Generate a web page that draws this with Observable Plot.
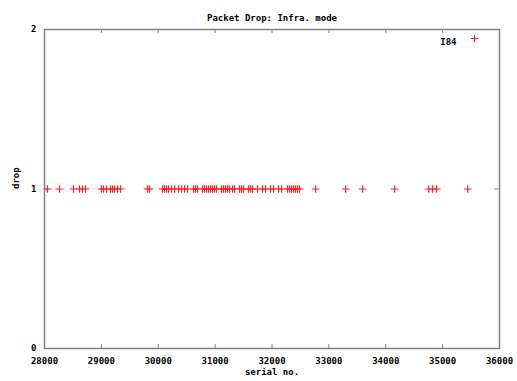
<!DOCTYPE html>
<html><head><meta charset="utf-8">
<script src="https://cdn.jsdelivr.net/npm/d3@7"></script>
<script src="https://cdn.jsdelivr.net/npm/@observablehq/plot@0.6"></script>
<style>body{margin:0;background:#fff}svg{display:block}</style>
</head><body><div id="chart"></div>
<script>
const title = "Packet Drop: Infra. mode";
const seriesName = "I84";
const xTicks = [28000, 29000, 30000, 31000, 32000, 33000, 34000, 35000, 36000];
const yTicks = [0, 1, 2];
const serial = [28053, 28264, 28510, 28616, 28668, 28721, 29003, 29038, 29091, 29161, 29196, 29231, 29284, 29337,
  29812, 29847, 30076, 30111, 30146, 30181, 30234, 30287, 30357, 30410, 30463, 30515, 30621, 30656, 30691,
  30779, 30814, 30850, 30885, 30920, 30955, 30990, 31025, 31113, 31148, 31183, 31219, 31254, 31307, 31342,
  31430, 31465, 31500, 31588, 31623, 31658, 31746, 31834, 31887, 31975, 32028, 32116, 32169, 32274, 32310,
  32345, 32380, 32415, 32450, 32485, 32767, 33295, 33594, 34157, 34755, 34825, 34896, 35441];
const drop = serial.map(() => 1);
const data = serial.map((s, i) => ({serial: s, drop: drop[i]}));

const font = "bold 9px 'DejaVu Sans Mono', monospace";
const chart = Plot.plot({
  width: 517, height: 381,
  marginLeft: 44, marginRight: 18, marginTop: 29, marginBottom: 33,
  style: {font, background: "#fff", color: "#000"},
  x: {domain: [28000, 36000]},
  y: {domain: [0, 2]},
  marks: [
    Plot.frame({stroke: "#808080", strokeWidth: 1.5}),
    Plot.ruleX(xTicks.slice(1, -1), {y1: 0, y2: 0.025, stroke: "#808080"}),
    Plot.ruleX(xTicks.slice(1, -1), {y1: 2, y2: 1.975, stroke: "#808080"}),
    Plot.ruleY([1], {x1: 28000, x2: 28080, stroke: "#808080"}),
    Plot.ruleY([1], {x1: 36000, x2: 35920, stroke: "#808080"}),
    Plot.axisX(xTicks, {tickSize: 0, tickPadding: 9, tickFormat: d => String(d), label: null, fontWeight: "bold"}),
    Plot.axisY(yTicks, {tickSize: 0, tickPadding: 8, tickFormat: d => String(d), label: null, fontWeight: "bold"}),
    Plot.dot(data, {x: "serial", y: "drop", symbol: "plus", r: 2.6, stroke: "#ff2020", strokeWidth: 1.2}),
    Plot.text([title], {frameAnchor: "top", dy: -15, fontWeight: "bold", fontSize: 9}),
    Plot.text(["serial no."], {frameAnchor: "bottom", dy: 26, fontWeight: "bold", fontSize: 9}),
    Plot.text(["drop"], {frameAnchor: "left", dx: -28, rotate: -90, fontWeight: "bold", fontSize: 9}),
    Plot.text([seriesName], {frameAnchor: "top-right", dx: -43, dy: 9, textAnchor: "end", fontWeight: "bold", fontSize: 9}),
    Plot.dot([seriesName], {frameAnchor: "top-right", dx: -25, dy: 9, symbol: "plus", r: 2.6, stroke: "#ff2020", strokeWidth: 1.2})
  ]
});
document.getElementById("chart").appendChild(chart);
</script>
</body></html>
